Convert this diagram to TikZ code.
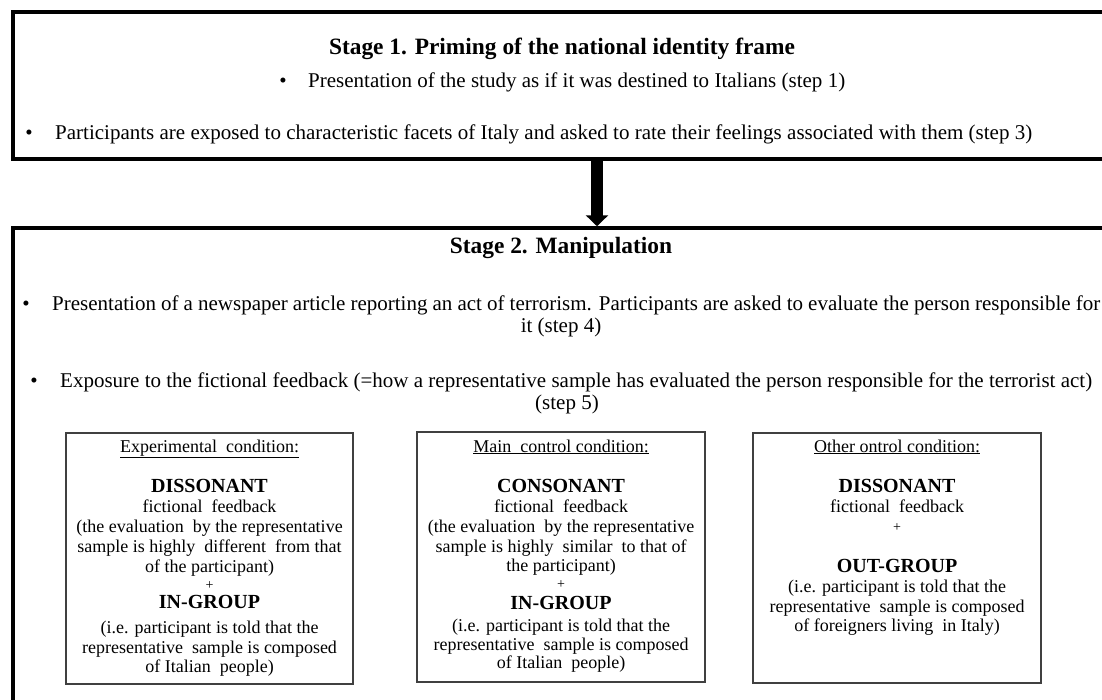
\documentclass[tikz,border=0pt]{standalone}
\usepackage{fontspec}
\setmainfont{Liberation Serif}
\usetikzlibrary{arrows.meta}
\newcommand\bigb[1]{{\fontsize{20}{22}\selectfont\bfseries #1}}
\newcommand\smallplus{{\fontsize{14}{16}\selectfont +}}
\begin{document}
\begin{tikzpicture}[x=1pt,y=-1pt,
  frame/.style={draw=black, line width=3.5pt, rectangle, inner sep=0pt},
  condbox/.style={draw=black!75, line width=1.2pt, rectangle, inner sep=0pt},
  titletext/.style={font=\fontsize{23.4}{26}\selectfont\bfseries, anchor=base, inner sep=0pt},
  bodytext/.style={font=\fontsize{21}{24}\selectfont, anchor=base west, inner sep=0pt},
  bullettext/.style={font=\fontsize{21}{24}\selectfont, anchor=base, inner sep=0pt},
  condtext/.style={font=\fontsize{18}{20}\selectfont, anchor=base, inner sep=0pt}
]
\useasboundingbox (0,0) rectangle (1102,699);
\clip (0,0) rectangle (1102,699);

% frames
\node[frame, minimum width=1120pt, minimum height=147pt] (s1) at (573,85.5) {};
\node[frame, minimum width=1120pt, minimum height=532pt] (s2) at (573,494) {};

% arrow
\coordinate (ax) at (597,0);
\draw[line width=12pt, -{Triangle[width=22pt,length=11pt]}] (s1.south -| ax) -- (s2.north -| ax);

% stage 1 text
\node[titletext] (t1) at (562,54) {Stage 1. Priming of the national identity frame};
\node[bullettext] (b1) at (283,87) {•};
\node[bodytext] (l1) at (308,87) {\makebox[537pt][s]{Presentation of the study as if it was destined to Italians (step 1)}};
\node[bullettext] (b2) at (29,139) {•};
\node[bodytext] (l2) at (55,139) {\makebox[977pt][s]{Participants are exposed to characteristic facets of Italy and asked to rate their feelings associated with them (step 3)}};

% stage 2 text
\node[titletext] (t2) at (561,253) {Stage 2. Manipulation};
\node[bullettext] (b3) at (26,310) {•};
\node[bodytext] (l3) at (52,310) {\makebox[1048pt][s]{Presentation of a newspaper article reporting an act of terrorism. Participants are asked to evaluate the person responsible for}};
\node[bodytext, anchor=base] (l3b) at (561,332) {it (step 4)};
\node[bullettext] (b4) at (34,387) {•};
\node[bodytext] (l4) at (60,387) {\makebox[1032pt][s]{Exposure to the fictional feedback (=how a representative sample has evaluated the person responsible for the terrorist act)}};
\node[bodytext, anchor=base] (l4b) at (567,409) {(step 5)};

% condition boxes
\node[condbox, minimum width=287pt, minimum height=251pt] (ca) at (209.5,558.5) {};
\node[condbox, minimum width=288pt, minimum height=250pt] (cb) at (561,557) {};
\node[condbox, minimum width=288pt, minimum height=250pt] (cc) at (897,558) {};

\foreach \yy/\txt [count=\i] in {
  452/{\underline{Experimental\ \ condition:}},
  492/{\bigb{DISSONANT}},
  512/{fictional\ \ feedback},
  532/{(the evaluation\ \ by the representative},
  552/{sample is highly\ \ different\ \ from that},
  572/{of the participant)},
  589/{\smallplus},
  608/{\bigb{IN-GROUP}},
  633/{(i.e. participant is told that the},
  653/{representative\ \ sample is composed},
  672/{of Italian\ \ people)}}
  \node[condtext] (a\i) at (209.5,\yy) {\txt};

\foreach \yy/\txt [count=\i] in {
  452/{\underline{Main\ \ control condition:}},
  492/{\bigb{CONSONANT}},
  512/{fictional\ \ feedback},
  532/{(the evaluation\ \ by the representative},
  552/{sample is highly\ \ similar\ \ to that of},
  571/{the participant)},
  588/{\smallplus},
  609/{\bigb{IN-GROUP}},
  631/{(i.e. participant is told that the},
  650/{representative\ \ sample is composed},
  668/{of Italian\ \ people)}}
  \node[condtext] (b\i) at (561,\yy) {\txt};

\foreach \yy/\txt [count=\i] in {
  452/{\underline{Other ontrol condition:}},
  492/{\bigb{DISSONANT}},
  512/{fictional\ \ feedback},
  531/{\smallplus},
  572/{\bigb{OUT-GROUP}},
  592/{(i.e. participant is told that the},
  612/{representative\ \ sample is composed},
  631/{of foreigners living\ \ in Italy)}}
  \node[condtext] (c\i) at (897,\yy) {\txt};
\end{tikzpicture}
\end{document}
